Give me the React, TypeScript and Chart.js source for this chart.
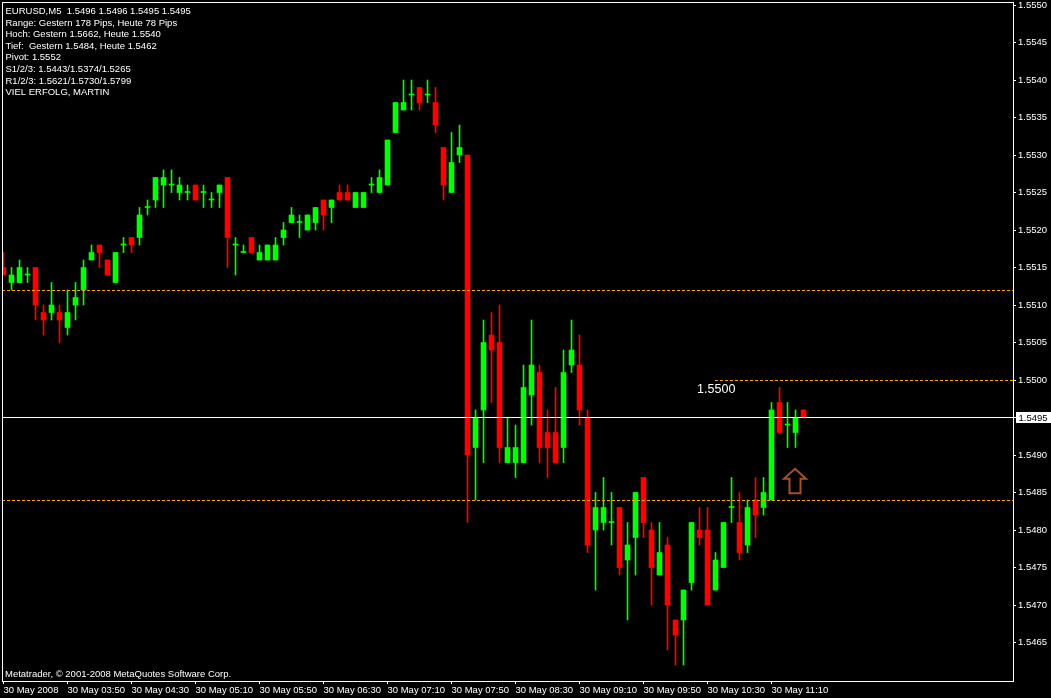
import { useEffect, useRef } from 'react';
import { Chart, registerables } from 'chart.js';

Chart.register(...registerables);

// ---- data (EURUSD M5, 30 May 2008, bars from 03:10 every 5 minutes) ----
const opens = [
  1.5515, 1.5513, 1.5513, 1.5514, 1.5515, 1.5509, 1.5509, 1.5509, 1.5507, 1.5510,
  1.5512, 1.5516, 1.5518, 1.5516, 1.5513, 1.5518, 1.5519, 1.5519, 1.5523, 1.5524,
  1.5526, 1.5526, 1.5525, 1.5525, 1.5526, 1.5525, 1.5524, 1.5525, 1.5527, 1.5518,
  1.5517, 1.5519, 1.5516, 1.5516, 1.5516, 1.5519, 1.5521, 1.5521, 1.5520, 1.5521,
  1.5524, 1.5523, 1.5525, 1.5525, 1.5523, 1.5523, 1.5526, 1.5525, 1.5526, 1.5533,
  1.5536, 1.5538, 1.5539, 1.5538, 1.5537, 1.5531, 1.5525, 1.5530, 1.5530, 1.5491,
  1.5496, 1.5506, 1.5505, 1.5489, 1.5489, 1.5489, 1.5498, 1.5501, 1.5493, 1.5493,
  1.5491, 1.5502, 1.5502, 1.5495, 1.5480, 1.5481, 1.5481, 1.5483, 1.5476, 1.5479,
  1.5487, 1.5480, 1.5474, 1.5478, 1.5468, 1.5468, 1.5473, 1.5480, 1.5480, 1.5472,
  1.5475, 1.5483, 1.5481, 1.5478, 1.5484, 1.5483, 1.5484, 1.5497, 1.5494, 1.5493,
  1.5496,
];
const highs = [
  1.5517, 1.5515, 1.5516, 1.5515, 1.5515, 1.5510, 1.5513, 1.5510, 1.5512, 1.5513,
  1.5516, 1.5518, 1.5518, 1.5516, 1.5517, 1.5519, 1.5519, 1.5523, 1.5524, 1.5527,
  1.5528, 1.5528, 1.5527, 1.5526, 1.5526, 1.5526, 1.5525, 1.5526, 1.5527, 1.5519,
  1.5518, 1.5519, 1.5518, 1.5518, 1.5519, 1.5521, 1.5523, 1.5522, 1.5522, 1.5523,
  1.5524, 1.5524, 1.5526, 1.5526, 1.5525, 1.5525, 1.5527, 1.5528, 1.5532, 1.5537,
  1.5540, 1.5540, 1.5539, 1.5540, 1.5539, 1.5531, 1.5533, 1.5534, 1.5530, 1.5496,
  1.5508, 1.5509, 1.5510, 1.5495, 1.5494, 1.5502, 1.5508, 1.5502, 1.5496, 1.5499,
  1.5504, 1.5508, 1.5506, 1.5496, 1.5485, 1.5487, 1.5485, 1.5483, 1.5481, 1.5485,
  1.5487, 1.5481, 1.5481, 1.5479, 1.5468, 1.5472, 1.5481, 1.5483, 1.5483, 1.5477,
  1.5481, 1.5487, 1.5485, 1.5484, 1.5487, 1.5487, 1.5497, 1.5499, 1.5497, 1.5496,
  1.5496,
];
const lows = [
  1.5514, 1.5512, 1.5513, 1.5513, 1.5508, 1.5506, 1.5508, 1.5505, 1.5506, 1.5508,
  1.5510, 1.5516, 1.5515, 1.5514, 1.5513, 1.5517, 1.5517, 1.5518, 1.5522, 1.5523,
  1.5523, 1.5525, 1.5524, 1.5524, 1.5524, 1.5523, 1.5523, 1.5523, 1.5515, 1.5514,
  1.5517, 1.5517, 1.5516, 1.5516, 1.5516, 1.5518, 1.5521, 1.5519, 1.5520, 1.5520,
  1.5520, 1.5521, 1.5524, 1.5524, 1.5523, 1.5523, 1.5525, 1.5525, 1.5526, 1.5533,
  1.5536, 1.5536, 1.5536, 1.5537, 1.5533, 1.5524, 1.5525, 1.5529, 1.5481, 1.5484,
  1.5489, 1.5497, 1.5489, 1.5489, 1.5487, 1.5489, 1.5494, 1.5489, 1.5487, 1.5489,
  1.5489, 1.5501, 1.5494, 1.5477, 1.5472, 1.5480, 1.5478, 1.5474, 1.5468, 1.5474,
  1.5479, 1.5470, 1.5474, 1.5464, 1.5462, 1.5462, 1.5472, 1.5478, 1.5470, 1.5472,
  1.5475, 1.5481, 1.5476, 1.5477, 1.5479, 1.5482, 1.5484, 1.5493, 1.5491, 1.5491,
  1.5495,
];
const closes = [
  1.5514, 1.5514, 1.5515, 1.5514, 1.5510, 1.5508, 1.5510, 1.5508, 1.5509, 1.5511,
  1.5515, 1.5517, 1.5517, 1.5514, 1.5517, 1.5518, 1.5518, 1.5522, 1.5523, 1.5527,
  1.5527, 1.5526, 1.5526, 1.5525, 1.5524, 1.5525, 1.5524, 1.5526, 1.5519, 1.5518,
  1.5517, 1.5517, 1.5517, 1.5518, 1.5518, 1.5520, 1.5522, 1.5521, 1.5522, 1.5523,
  1.5522, 1.5524, 1.5524, 1.5524, 1.5525, 1.5525, 1.5526, 1.5527, 1.5532, 1.5537,
  1.5537, 1.5538, 1.5537, 1.5538, 1.5534, 1.5526, 1.5529, 1.5531, 1.5490, 1.5495,
  1.5505, 1.5504, 1.5491, 1.5491, 1.5491, 1.5499, 1.5502, 1.5491, 1.5491, 1.5489,
  1.5501, 1.5504, 1.5496, 1.5478, 1.5483, 1.5483, 1.5481, 1.5475, 1.5478, 1.5485,
  1.5481, 1.5475, 1.5477, 1.5470, 1.5466, 1.5472, 1.5481, 1.5479, 1.5470, 1.5476,
  1.5481, 1.5483, 1.5477, 1.5483, 1.5482, 1.5485, 1.5496, 1.5493, 1.5494, 1.5495,
  1.5495,
];

const timeTickIndex = [0, 8, 16, 24, 32, 40, 48, 56, 64, 72, 80, 88, 96];
const timeLabels = [
  '30 May 2008', '30 May 03:50', '30 May 04:30', '30 May 05:10', '30 May 05:50',
  '30 May 06:30', '30 May 07:10', '30 May 07:50', '30 May 08:30', '30 May 09:10',
  '30 May 09:50', '30 May 10:30', '30 May 11:10',
];
const priceTicks = [
  1.5465, 1.547, 1.5475, 1.548, 1.5485, 1.549, 1.5495, 1.55, 1.5505, 1.551,
  1.5515, 1.552, 1.5525, 1.553, 1.5535, 1.554, 1.5545, 1.555,
];

const dashedLevels = [1.5512, 1.5484];
const roundLevel = 1.55;
const roundLevelFromIndex = 88.9;
const currentPrice = 1.5495;
const arrowIndex = 99;
const arrowPrice = 1.54883;

const headerLines = [
  'EURUSD,M5  1.5496 1.5496 1.5495 1.5495',
  'Range: Gestern 178 Pips, Heute 78 Pips',
  'Hoch: Gestern 1.5662, Heute 1.5540',
  'Tief:  Gestern 1.5484, Heute 1.5462',
  'Pivot: 1.5552',
  'S1/2/3: 1.5443/1.5374/1.5265',
  'R1/2/3: 1.5621/1.5730/1.5799',
  'VIEL ERFOLG, MARTIN',
];
const copyrightText = 'Metatrader, \u00A9 2001-2008 MetaQuotes Software Corp.';

// ---- view ranges ----
const X_MIN = -0.1875;
const X_MAX = 126.1875;
const Y_MAX = 1.55504;
const Y_MIN = 1.5459867;

const BULL = '#00ff00';
const BEAR = '#ff0000';
const ORANGE = '#ffa500';
const SMALL_FONT = '9.5px "Liberation Sans", Arial, sans-serif';

const idx = opens.map((_, i) => i);
const candleColor = (i: number) => (closes[i] < opens[i] ? BEAR : BULL);

const mtPlugin = {
  id: 'mtDecor',
  beforeDraw(chart: any) {
    const { ctx, width, height } = chart;
    ctx.save();
    ctx.fillStyle = '#000';
    ctx.fillRect(0, 0, width, height);
    ctx.restore();
  },
  afterDatasetsDraw(chart: any) {
    const { ctx, chartArea } = chart;
    const xs = chart.scales.x;
    const ys = chart.scales.y;
    const hline = (price: number, x0: number, color: string, dash: number[]) => {
      const y = Math.floor(ys.getPixelForValue(price)) + 0.5;
      ctx.save();
      ctx.beginPath();
      ctx.rect(chartArea.left, chartArea.top, chartArea.right - chartArea.left, chartArea.bottom - chartArea.top);
      ctx.clip();
      ctx.strokeStyle = color;
      ctx.lineWidth = 1;
      ctx.setLineDash(dash);
      ctx.beginPath();
      ctx.moveTo(x0, y);
      ctx.lineTo(chartArea.right, y);
      ctx.stroke();
      ctx.restore();
    };
    dashedLevels.forEach((lv) => hline(lv, chartArea.left, ORANGE, [3, 2]));
    hline(roundLevel, Math.round(xs.getPixelForValue(roundLevelFromIndex)), ORANGE, [3, 2]);
    hline(currentPrice, chartArea.left, '#ffffff', []);
  },
  afterDraw(chart: any) {
    const { ctx, chartArea } = chart;
    const xs = chart.scales.x;
    const ys = chart.scales.y;
    ctx.save();
    // frame
    ctx.strokeStyle = '#ffffff';
    ctx.lineWidth = 1;
    ctx.strokeRect(chartArea.left + 0.5, chartArea.top + 0.5, chartArea.right - chartArea.left, chartArea.bottom - chartArea.top);

    // header text
    ctx.fillStyle = '#ffffff';
    ctx.font = SMALL_FONT;
    ctx.textAlign = 'left';
    ctx.textBaseline = 'alphabetic';
    headerLines.forEach((t, i) => ctx.fillText(t, 5.5, 14 + 11.6 * i));
    ctx.fillText(copyrightText, 5, 676.5);

    // round-number label
    ctx.font = '12.5px "Liberation Sans", Arial, sans-serif';
    ctx.fillText(roundLevel.toFixed(4), xs.getPixelForValue(86.7), ys.getPixelForValue(roundLevel) + 13);

    // arrow
    const ax = xs.getPixelForValue(arrowIndex) - 0.5;
    const ay = ys.getPixelForValue(arrowPrice);
    ctx.strokeStyle = '#a0522d';
    ctx.lineWidth = 2;
    ctx.lineJoin = 'miter';
    ctx.beginPath();
    ctx.moveTo(ax, ay + 1);
    ctx.lineTo(ax + 11, ay + 11);
    ctx.lineTo(ax + 5.5, ay + 11);
    ctx.lineTo(ax + 5.5, ay + 25.5);
    ctx.lineTo(ax - 5.5, ay + 25.5);
    ctx.lineTo(ax - 5.5, ay + 11);
    ctx.lineTo(ax - 11, ay + 11);
    ctx.closePath();
    ctx.stroke();

    // current price box on the axis
    const py = ys.getPixelForValue(currentPrice);
    ctx.fillStyle = '#ffffff';
    ctx.fillRect(chartArea.right + 3, Math.floor(py) - 5, 35, 11);
    ctx.fillStyle = '#000000';
    ctx.font = SMALL_FONT;
    ctx.textBaseline = 'middle';
    ctx.fillText(currentPrice.toFixed(4), chartArea.right + 5.5, py + 0.5);
    ctx.restore();
  },
};

export default function App() {
  const ref = useRef<HTMLCanvasElement>(null);

  useEffect(() => {
    const canvas = ref.current;
    if (!canvas) return;

    const chart = new Chart(canvas, {
      type: 'bar',
      data: {
        datasets: [
          {
            type: 'bar',
            label: 'wick',
            data: idx.map((i) => ({ x: i, y: [lows[i], highs[i]] })) as any,
            backgroundColor: idx.map(candleColor),
            barThickness: 1,
            grouped: false,
            borderWidth: 0,
            order: 3,
          },
          {
            type: 'bar',
            label: 'body',
            data: idx.map((i) => ({ x: i, y: [opens[i], closes[i]] })) as any,
            backgroundColor: idx.map(candleColor),
            barThickness: 5,
            minBarLength: 1,
            grouped: false,
            borderWidth: 0,
            order: 2,
          },
        ] as any,
      },
      options: {
        animation: false,
        responsive: false,
        devicePixelRatio: 1,
        events: [],
        layout: { padding: { left: 2, top: 2, right: 0, bottom: 0 } },
        plugins: { legend: { display: false }, tooltip: { enabled: false }, title: { display: false } },
        scales: {
          x: {
            type: 'linear',
            min: X_MIN,
            max: X_MAX,
            offset: false,
            position: 'bottom',
            border: { display: false },
            grid: { display: true, drawOnChartArea: false, drawTicks: true, tickLength: 3, color: '#ffffff', offset: false },
            afterBuildTicks: (s: any) => {
              s.ticks = timeTickIndex.map((v) => ({ value: v }));
            },
            afterFit: (s: any) => {
              s.height = 17;
              s.paddingLeft = 0;
              s.paddingRight = 0;
              s.paddingTop = 0;
              s.paddingBottom = 0;
            },
            ticks: {
              color: '#ffffff',
              font: { family: '"Liberation Sans", Arial, sans-serif', size: 9.5 },
              align: 'start',
              autoSkip: false,
              maxRotation: 0,
              minRotation: 0,
              padding: 1,
              callback: (v: any) => timeLabels[timeTickIndex.indexOf(Number(v))] ?? '',
            },
          },
          y: {
            type: 'linear',
            position: 'right',
            min: Y_MIN,
            max: Y_MAX,
            border: { display: false },
            grid: { display: true, drawOnChartArea: false, drawTicks: true, tickLength: 3, color: '#ffffff' },
            afterBuildTicks: (s: any) => {
              s.ticks = priceTicks.map((v) => ({ value: v }));
            },
            afterFit: (s: any) => {
              s.width = 38;
              s.paddingLeft = 0;
              s.paddingRight = 0;
              s.paddingTop = 0;
              s.paddingBottom = 0;
            },
            ticks: {
              color: '#ffffff',
              font: { family: '"Liberation Sans", Arial, sans-serif', size: 9.5 },
              padding: 2,
              crossAlign: 'near',
              callback: (v: any) => Number(v).toFixed(4),
            },
          },
        },
      } as any,
      plugins: [mtPlugin],
    });

    return () => chart.destroy();
  }, []);

  return (
    <div style={{ position: 'absolute', left: 0, top: 0, width: 1051, height: 698, background: '#000' }}>
      <canvas ref={ref} width={1051} height={698} style={{ display: 'block', width: 1051, height: 698 }} />
    </div>
  );
}
